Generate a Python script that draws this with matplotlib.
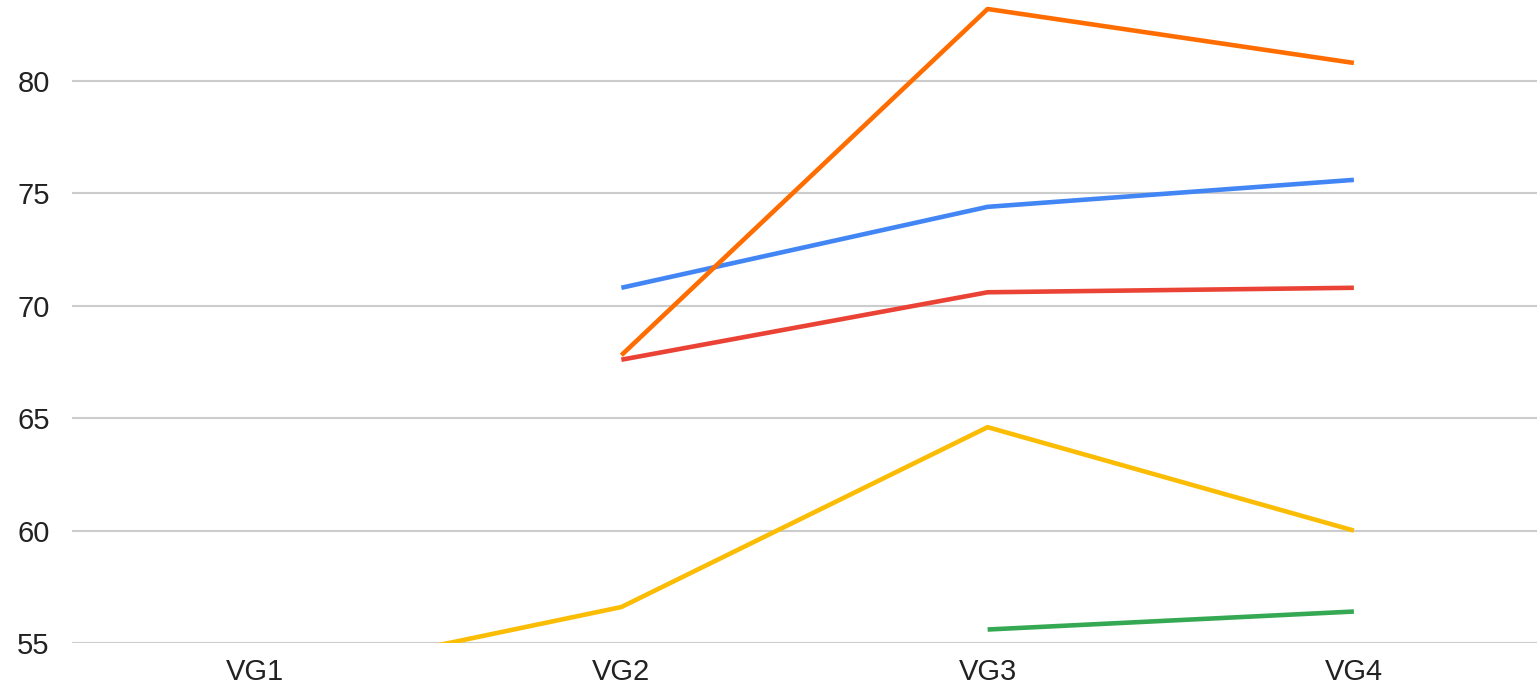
import numpy as np
import matplotlib
matplotlib.use('Agg')
import matplotlib.pyplot as plt

categories = ["VG1", "VG2", "VG3", "VG4"]
blue = [np.nan, 70.8, 74.4, 75.6]
red = [np.nan, 67.6, 70.6, 70.8]
yellow = [53.2, 56.6, 64.6, 60.0]
green = [np.nan, np.nan, 55.6, 56.4]
orange = [np.nan, 67.8, 83.2, 80.8]
y_ticks = [55, 60, 65, 70, 75, 80]

series = [
    (blue, "#4285F4"),
    (red, "#EA4335"),
    (yellow, "#FBBC04"),
    (green, "#34A853"),
    (orange, "#FF6D01"),
]

plt.rcParams['font.family'] = ['Liberation Sans', 'DejaVu Sans']

fig = plt.figure(figsize=(15.37, 6.9), dpi=100)
ax = fig.add_axes([72 / 1537, 47 / 690, 1 - 72 / 1537, 1 - 47 / 690])

x = np.arange(len(categories))
for vals, color in series:
    ax.plot(x, vals, color=color, linewidth=3.3, solid_capstyle='butt', zorder=3)

ax.set_xlim(-0.5, 3.5)
ax.set_ylim(55, 83.6)
ax.set_yticks(y_ticks)
ax.set_yticklabels([str(t) for t in y_ticks])
ax.set_xticks(x)
ax.set_xticklabels(categories)
ax.grid(axis='y', color='#cccccc', linewidth=1.5)
ax.set_axisbelow(True)
for s in ax.spines.values():
    s.set_visible(False)
ax.tick_params(axis='both', length=0, labelsize=21, colors='#222222')
ax.tick_params(axis='y', pad=16)
ax.tick_params(axis='x', pad=11)

fig.savefig("out.png", dpi=100)
